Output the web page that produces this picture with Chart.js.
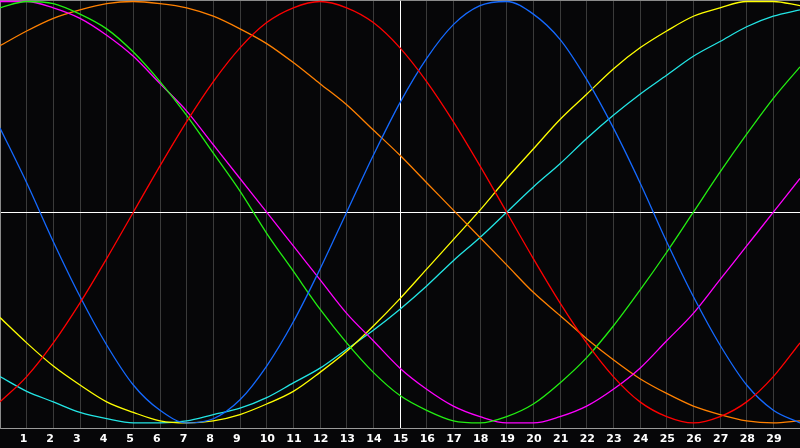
<!DOCTYPE html>
<html>
<head>
<meta charset="utf-8">
<script src="https://cdn.jsdelivr.net/npm/chart.js@4"></script>
<style>
  html, body { margin: 0; padding: 0; background: #060608; }
  #chart { display: block; background: #060608; }
</style>
</head>
<body>
<canvas id="chart" width="800" height="448"></canvas>
<script>
// day index along the bottom axis (0 and 30 are the chart edges, unlabeled)
const days = [0, 1, 2, 3, 4, 5, 6, 7, 8, 9, 10, 11, 12, 13, 14, 15, 16, 17, 18, 19, 20, 21, 22, 23, 24, 25, 26, 27, 28, 29, 30];

// values, -100 (bottom) .. 100 (top)
const redVals     = [-90, -78, -62, -43, -22, 0, 22, 43, 62, 78, 90, 97, 100, 97, 90, 78, 62, 43, 22, 0, -22, -43, -62, -78, -90, -97, -100, -97, -90, -78, -62];
const blueVals    = [40, 14, -14, -40, -63, -82, -94, -100, -98, -89, -73, -52, -27, 0, 27, 52, 73, 89, 98, 100, 94, 82, 63, 40, 14, -14, -40, -63, -82, -94, -100];
const greenVals   = [97, 100, 99, 94, 87, 76, 62, 46, 28, 10, -10, -28, -46, -62, -76, -87, -94, -99, -100, -97, -91, -81, -69, -54, -37, -19, 0, 19, 37, 54, 69];
const magentaVals = [100, 100, 97, 92, 84, 74, 61, 48, 32, 16, 0, -16, -32, -48, -61, -74, -84, -92, -97, -100, -100, -97, -92, -84, -74, -61, -48, -32, -16, 0, 16];
const orangeVals  = [79, 86, 92, 96, 99, 100, 99, 97, 93, 87, 80, 71, 61, 51, 39, 27, 14, 1, -12, -25, -38, -49, -60, -70, -79, -86, -92, -96, -99, -100, -99];
const yellowVals  = [-50, -62, -73, -82, -90, -95, -99, -100, -99, -96, -91, -85, -76, -66, -54, -41, -27, -13, 1, 16, 30, 44, 56, 68, 78, 86, 93, 97, 100, 100, 98];
const cyanVals    = [-78, -85, -90, -95, -98, -100, -100, -99, -96, -93, -88, -81, -74, -65, -56, -46, -35, -23, -12, 0, 12, 23, 35, 46, 56, 65, 74, 81, 88, 93, 96];

const seriesVals = [redVals, blueVals, greenVals, magentaVals, orangeVals, yellowVals, cyanVals];
const seriesColors = ["#ff0000", "#1469ff", "#22ee11", "#ff00ff", "#ff8000", "#ffff00", "#22e5e5"];

const yMin = -102.4;
const yMax = 100.7;

const ctx = document.getElementById("chart");

new Chart(ctx, {
  type: "line",
  data: {
    labels: days,
    datasets: seriesVals.map((vals, i) => ({
      data: vals,
      borderColor: seriesColors[i],
      borderWidth: 1.3,
      pointRadius: 0,
      cubicInterpolationMode: "monotone",
      fill: false,
    })),
  },
  options: {
    responsive: false,
    animation: false,
    devicePixelRatio: 1,
    layout: { padding: { left: 0, right: 0, top: 0, bottom: -2 } },
    plugins: {
      legend: { display: false },
      tooltip: { enabled: false },
    },
    scales: {
      x: {
        type: "linear",
        min: 0,
        max: 30,
        ticks: {
          stepSize: 1,
          autoSkip: false,
          maxRotation: 0,
          align: "start",
          labelOffset: -7,
          // tick padding would also pad the sides, so the gap comes from lineHeight
          padding: 0,
          color: "#ffffff",
          font: { family: "DejaVu Sans", size: 11, weight: "bold", lineHeight: "22px" },
          callback: (v) => (v === 0 || v === 30 ? "" : String(v)),
        },
        grid: {
          drawTicks: false,
          lineWidth: 1,
          color: (c) => {
            const v = c.tick ? c.tick.value : null;
            if (v === 15) return "#ffffff";
            if (v === 0) return "#8a8a8a";
            if (v === 30) return "rgba(0,0,0,0)";
            return "#3a3a3a";
          },
        },
        border: { display: true, color: "#9a9a9a", width: 1 },
      },
      y: {
        min: yMin,
        max: yMax,
        ticks: { display: false },
        afterBuildTicks: (scale) => {
          scale.ticks = [{ value: yMin }, { value: 0 }, { value: yMax }];
        },
        grid: {
          drawTicks: false,
          color: (c) => {
            const v = c.tick ? c.tick.value : null;
            if (v === 0) return "#ffffff";
            if (v === yMax) return "#8a8a8a";
            return "rgba(0,0,0,0)";
          },
        },
        border: { display: true, color: "#8a8a8a", width: 1 },
      },
    },
  },
});
</script>
</body>
</html>
